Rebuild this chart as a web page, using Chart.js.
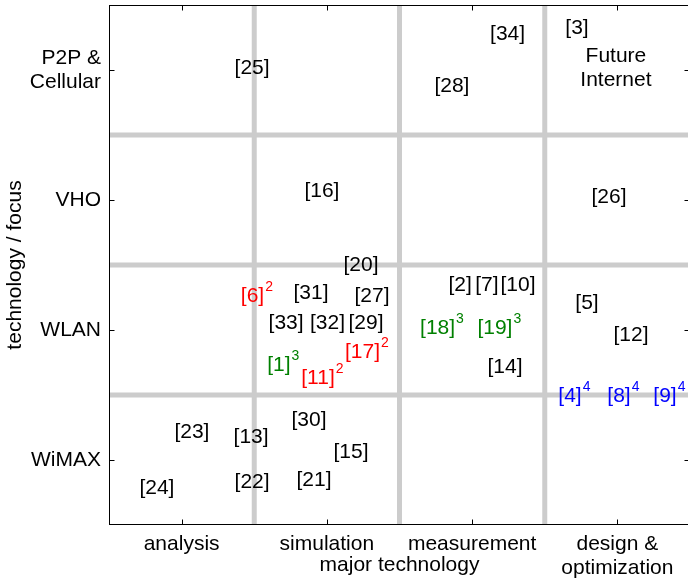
<!DOCTYPE html>
<html>
<head>
<meta charset="utf-8">
<script src="https://cdn.jsdelivr.net/npm/chart.js@4/dist/chart.umd.min.js"></script>
<style>
  html, body { margin: 0; padding: 0; background: #fff; overflow: hidden; }
  #wrap { width: 688px; height: 579px; overflow: hidden; }
  canvas { display: block; }
</style>
</head>
<body>
<div id="wrap"><canvas id="c" width="692" height="579"></canvas></div>
<script>
// Axis categories (cells are centred on 0.5, 1.5, 2.5, 3.5)
const technologies = [['analysis'], ['simulation'], ['measurement'], ['design &', 'optimization']];
const focusAreas = ['WiMAX', 'WLAN', 'VHO', ['P2P &', 'Cellular']];
const cellCentres = [0.5, 1.5, 2.5, 3.5];
const cellBorders = [1, 2, 3];

// Plain references
const plainRefs = ['[25]', '[34]', '[28]', '[3]', '[16]', '[26]', '[20]', '[31]', '[27]', '[33]', '[32]', '[29]',
                   '[2]', '[7]', '[10]', '[14]', '[5]', '[12]', '[23]', '[13]', '[24]', '[22]', '[30]', '[15]', '[21]'];
const plainX = [0.985, 2.744, 2.361, 3.222, 1.466, 3.442, 1.735, 1.391, 1.811, 1.219, 1.504, 1.769,
                2.417, 2.602, 2.816, 2.726, 3.291, 3.594, 0.571, 0.978, 0.330, 0.985, 1.377, 1.666, 1.411];
const plainY = [3.516, 3.777, 3.378, 3.823, 2.564, 2.518, 1.996, 1.785, 1.758, 1.551, 1.551, 1.551,
                1.843, 1.843, 1.843, 1.215, 1.704, 1.459, 0.714, 0.676, 0.284, 0.330, 0.806, 0.560, 0.345];

// References marked with footnote 2
const note2Refs = ['[6]', '[11]', '[17]'];
const note2X = [0.988, 1.439, 1.745];
const note2Y = [1.758, 1.129, 1.328];

// References marked with footnote 3
const note3Refs = ['[1]', '[18]', '[19]'];
const note3X = [1.170, 2.262, 2.657];
const note3Y = [1.228, 1.516, 1.516];

// References marked with footnote 4
const note4Refs = ['[4]', '[8]', '[9]'];
const note4X = [3.174, 3.511, 3.828];
const note4Y = [0.990, 0.990, 0.990];

// Cell caption
const captionText = [['Future', 'Internet']];
const captionX = [3.49];
const captionY = [3.51];

const FONT = "'Liberation Sans', Arial, Helvetica, sans-serif";

function makeSet(refs, xs, ys, color, sup) {
  return {
    data: xs.map((x, i) => ({ x: x, y: ys[i] })),
    refs: refs, color: color, sup: sup,
    pointRadius: 0, pointHoverRadius: 0, showLine: false
  };
}

const datasets = [
  makeSet(plainRefs, plainX, plainY, '#000000', ''),
  makeSet(note2Refs, note2X, note2Y, '#ff0000', '2'),
  makeSet(note3Refs, note3X, note3Y, '#008000', '3'),
  makeSet(note4Refs, note4X, note4Y, '#0000ff', '4'),
  makeSet(captionText, captionX, captionY, '#000000', '')
];

// Grey cell dividers, box frame and inward tick marks
const framePlugin = {
  id: 'frame',
  beforeDatasetsDraw(chart) {
    const { ctx, chartArea: a, scales: { x, y } } = chart;
    ctx.save();
    ctx.strokeStyle = '#cccccc';
    ctx.lineWidth = 5;
    cellBorders.forEach(v => {
      const px = x.getPixelForValue(v);
      ctx.beginPath(); ctx.moveTo(px, a.top); ctx.lineTo(px, a.bottom); ctx.stroke();
      const py = y.getPixelForValue(v);
      ctx.beginPath(); ctx.moveTo(a.left, py); ctx.lineTo(a.right, py); ctx.stroke();
    });
    ctx.strokeStyle = '#000000';
    ctx.lineWidth = 1;
    const L = Math.round(a.left) + 0.5, R = Math.round(a.right) - 0.5;
    const T = Math.round(a.top) + 0.5, B = Math.round(a.bottom) - 0.5;
    ctx.strokeRect(L, T, R - L, B - T);
    ctx.beginPath();
    cellCentres.forEach(v => {
      const px = Math.round(x.getPixelForValue(v)) + 0.5;
      ctx.moveTo(px, B); ctx.lineTo(px, B - 5);
      ctx.moveTo(px, T); ctx.lineTo(px, T + 5);
      const py = Math.round(y.getPixelForValue(v)) + 0.5;
      ctx.moveTo(L, py); ctx.lineTo(L + 5, py);
      ctx.moveTo(R, py); ctx.lineTo(R - 5, py);
    });
    ctx.stroke();
    ctx.restore();
  }
};

// Reference labels with optional superscript footnote
const labelPlugin = {
  id: 'refLabels',
  afterDatasetsDraw(chart) {
    const ctx = chart.ctx;
    ctx.save();
    chart.data.datasets.forEach((ds, di) => {
      const meta = chart.getDatasetMeta(di);
      meta.data.forEach((pt, i) => {
        const text = ds.refs[i];
        ctx.fillStyle = ds.color;
        ctx.font = '21px ' + FONT;
        ctx.textBaseline = 'middle';
        if (Array.isArray(text)) {
          ctx.textAlign = 'center';
          const lh = 24;
          text.forEach((line, k) => {
            ctx.fillText(line, pt.x, pt.y + (k - (text.length - 1) / 2) * lh);
          });
          return;
        }
        ctx.textAlign = 'center';
        ctx.fillText(text, pt.x, pt.y);
        if (ds.sup) {
          const w = ctx.measureText(text).width;
          ctx.font = '14px ' + FONT;
          ctx.textAlign = 'left';
          ctx.fillText(ds.sup, pt.x + w / 2 + 1, pt.y - 9);
        }
      });
    });
    ctx.restore();
  }
};

const tickFont = { family: FONT, size: 21, lineHeight: 1.15 };

new Chart(document.getElementById('c'), {
  type: 'scatter',
  data: { datasets: datasets },
  options: {
    responsive: false,
    animation: false,
    events: [],
    layout: { padding: { top: 5, right: 2, left: 0, bottom: 0 } },
    plugins: { legend: { display: false }, tooltip: { enabled: false } },
    scales: {
      x: {
        type: 'linear', min: 0, max: 4,
        afterBuildTicks: s => { s.ticks = cellCentres.map(v => ({ value: v })); },
        afterFit: s => { s.height = 54; s.paddingLeft = 0; s.paddingRight = 0; },
        grid: { display: false },
        border: { display: false },
        ticks: {
          autoSkip: false, maxRotation: 0, minRotation: 0, padding: -1,
          color: '#000', font: tickFont,
          callback: (v, i) => technologies[i]
        },
        title: {
          display: true, text: 'major technology', color: '#000',
          font: { family: FONT, size: 21, lineHeight: 1.2 },
          padding: { top: 0, bottom: 1 }
        }
      },
      y: {
        type: 'linear', min: 0, max: 4,
        afterBuildTicks: s => { s.ticks = cellCentres.map(v => ({ value: v })); },
        afterFit: s => { s.width = 109; s.paddingTop = 0; s.paddingBottom = 0; },
        grid: { display: false },
        border: { display: false },
        ticks: {
          autoSkip: false, padding: 0,
          color: '#000', font: tickFont,
          callback: (v, i) => focusAreas[i]
        },
        title: {
          display: true, text: 'technology / focus', color: '#000',
          font: { family: FONT, size: 21, lineHeight: 1.2 },
          padding: { top: 3, bottom: 0 }
        }
      }
    }
  },
  plugins: [framePlugin, labelPlugin]
});
</script>
</body>
</html>
